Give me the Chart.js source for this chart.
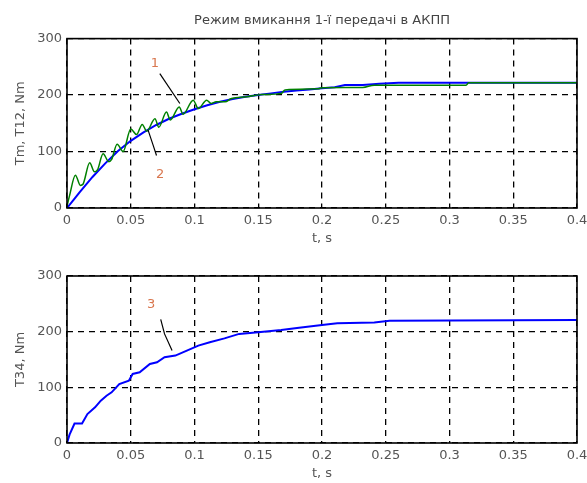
<!DOCTYPE html>
<html>
<head>
<meta charset="utf-8">
<script src="https://cdn.jsdelivr.net/npm/chart.js@4/dist/chart.umd.min.js"></script>
<style>
  body { margin: 0; background: #fff; }
  #wrap { position: relative; width: 587px; height: 483px; overflow: hidden; }
  canvas { position: absolute; left: 0; }
</style>
</head>
<body>
<div id="wrap">
  <canvas id="top" width="600" height="250" style="top:0"></canvas>
  <canvas id="bottom" width="600" height="233" style="top:250px"></canvas>
</div>
<script>
// upper plot, smooth (blue) curve
const tBlue = [0, 0.005, 0.01, 0.02, 0.03, 0.04, 0.05, 0.06, 0.07, 0.08, 0.09, 0.1, 0.11, 0.12,
  0.13, 0.14, 0.15, 0.16, 0.17, 0.18, 0.19, 0.2, 0.21, 0.218, 0.232, 0.245, 0.26, 0.3, 0.35, 0.4];
const tmBlue = [0, 14, 28, 55, 79, 101, 119, 134, 147, 158, 167, 175, 182, 188,
  193, 197, 200, 203, 206, 208, 210, 212, 214, 218, 218, 220, 222, 222, 222, 222];

// upper plot, oscillating (green) curve
const tGreen = [0, 0.002, 0.0066, 0.0105, 0.0125, 0.0178, 0.0215, 0.024, 0.0283, 0.0328, 0.035,
  0.0393, 0.044, 0.05, 0.0545, 0.059, 0.0625, 0.069, 0.072, 0.078, 0.081, 0.088, 0.091, 0.099,
  0.103, 0.1095, 0.113, 0.117, 0.124, 0.129, 0.141, 0.153, 0.168, 0.171, 0.197, 0.2, 0.232,
  0.241, 0.313, 0.315, 0.4];
const t12Green = [3, 22, 58, 40, 42, 80, 64, 68, 96, 82, 86,
  113, 100, 140, 130, 148, 136, 158, 143, 170, 156, 179, 166, 191,
  176, 191, 185, 188, 188, 194, 197, 201, 203, 209, 211, 213, 213.5,
  217.6, 217.6, 221.8, 221.8];

// lower plot
const tT34 = [0, 0.002, 0.0059, 0.0118, 0.016, 0.022, 0.0265, 0.031, 0.035, 0.041, 0.0485, 0.0515,
  0.057, 0.065, 0.0706, 0.0765, 0.085, 0.094, 0.103, 0.112, 0.1235, 0.135, 0.15, 0.168, 0.182,
  0.2, 0.212, 0.241, 0.253, 0.4];
const t34 = [0, 15, 35, 35, 52, 64, 76, 85, 91, 106, 112, 124,
  127, 142, 145, 154, 157, 166, 175, 181, 188, 196, 199, 203, 207,
  212, 215, 216.5, 219.5, 221];

// leader lines and their numbers
const lead1 = [[0.0728, 238], [0.0885, 185]];
const lead2 = [[0.0636, 138], [0.0676, 111], [0.0702, 93]];
const lead3 = [[0.0735, 222], [0.0765, 196], [0.0824, 166]];
const marks1 = [{ t: 0.069, v: 256, text: "1" }, { t: 0.073, v: 59, text: "2" }];
const marks2 = [{ t: 0.066, v: 249, text: "3" }];

const xTicks = [0, 0.05, 0.1, 0.15, 0.2, 0.25, 0.3, 0.35, 0.4];

Chart.defaults.font.family = "DejaVu Sans";
Chart.defaults.font.size = 13;
Chart.defaults.color = "#555";

const pts = (xs, ys) => xs.map((x, i) => ({ x: x, y: ys[i] }));
const pairs = (arr) => arr.map(p => ({ x: p[0], y: p[1] }));

const boxAndText = {
  id: "boxAndText",
  afterDatasetsDraw(chart, args, opts) {
    const { ctx, chartArea: a, scales } = chart;
    ctx.save();
    ctx.strokeStyle = "#000";
    ctx.lineWidth = 1.6;
    ctx.strokeRect(a.left, a.top, a.right - a.left, a.bottom - a.top);
    ctx.fillStyle = "#d9774f";
    ctx.font = "13px 'DejaVu Sans'";
    ctx.textAlign = "center";
    ctx.textBaseline = "middle";
    (opts.marks || []).forEach(m => {
      ctx.fillText(m.text, scales.x.getPixelForValue(m.t), scales.y.getPixelForValue(m.v));
    });
    ctx.restore();
  }
};

function lineSet(data, color, width, smooth) {
  const ds = { data: data, borderColor: color, borderWidth: width, pointRadius: 0,
    tension: 0, fill: false };
  if (smooth) {
    ds.tension = 0.4;
    ds.cubicInterpolationMode = "monotone";
  }
  return ds;
}

function makeChart(id, datasets, yTitle, titleText, padTop, xHeight, xTitlePad, marks) {
  return new Chart(document.getElementById(id), {
    type: "line",
    data: { datasets: datasets },
    plugins: [boxAndText],
    options: {
      responsive: false,
      animation: false,
      events: [],
      layout: { padding: { top: padTop, right: 23, left: 0, bottom: 0 } },
      plugins: {
        legend: { display: false },
        tooltip: { enabled: false },
        title: {
          display: !!titleText,
          text: titleText,
          fullSize: false,
          color: "#444",
          font: { size: 13, weight: "normal" },
          padding: { top: 0, bottom: 10 }
        },
        boxAndText: { marks: marks }
      },
      scales: {
        x: {
          type: "linear",
          min: 0,
          max: 0.4,
          afterBuildTicks: (s) => { s.ticks = xTicks.map(v => ({ value: v })); },
          afterFit: (s) => { s.height = xHeight; },
          ticks: {
            autoSkip: false,
            maxRotation: 0,
            padding: 5,
            callback: (v) => String(Math.round(v * 100) / 100)
          },
          grid: { color: "#000", lineWidth: 1.3, drawTicks: false },
          border: { display: false, dash: [6, 5] },
          title: { display: true, text: "t, s", color: "#555",
            padding: { top: 0, bottom: xTitlePad } }
        },
        y: {
          min: 0,
          max: 300,
          afterFit: (s) => { s.width = 67; },
          ticks: { stepSize: 100, padding: 5 },
          grid: { color: "#000", lineWidth: 1.3, drawTicks: false },
          border: { display: false, dash: [6, 5] },
          title: { display: true, text: yTitle, color: "#555",
            padding: { top: 13, bottom: 0 } }
        }
      }
    }
  });
}

// first dataset is drawn on top, so green goes first
makeChart("top", [
  lineSet(pairs(lead1), "#000", 1.2),
  lineSet(pairs(lead2), "#000", 1.2),
  lineSet(pts(tGreen, t12Green), "#008000", 1.5, true),
  lineSet(pts(tBlue, tmBlue), "#0000ff", 2)
], "Tm, T12, Nm", "Режим вмикання 1-ї передачі в АКПП", 13, 42, 4, marks1);

makeChart("bottom", [
  lineSet(pairs(lead3), "#000", 1.2),
  lineSet(pts(tT34, t34), "#0000ff", 2)
], "T34, Nm", "", 26, 40, 2, marks2);
</script>
</body>
</html>
